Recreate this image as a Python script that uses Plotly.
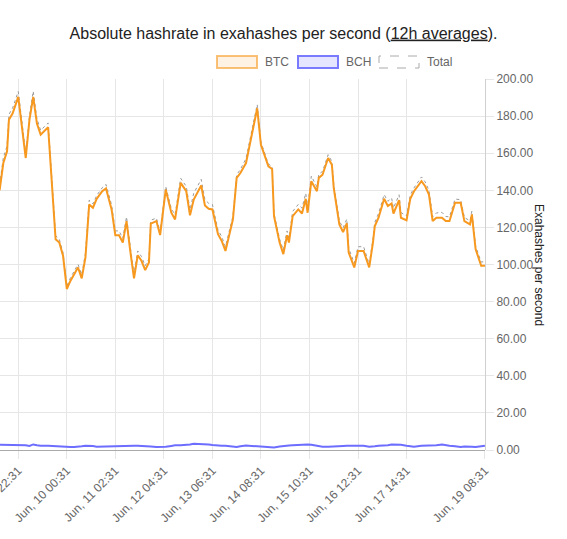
import plotly.graph_objects as go

# 12h averages (EH/s)
times = [
    "2021-06-08 12:31", "2021-06-08 14:31", "2021-06-08 16:31", "2021-06-08 17:31",
    "2021-06-08 19:31", "2021-06-08 22:31", "2021-06-09 02:31", "2021-06-09 04:31",
    "2021-06-09 06:31", "2021-06-09 08:31", "2021-06-09 10:31", "2021-06-09 14:31",
    "2021-06-09 18:31", "2021-06-09 20:31", "2021-06-09 22:31", "2021-06-10 00:31",
    "2021-06-10 02:31", "2021-06-10 04:31", "2021-06-10 06:31", "2021-06-10 08:31",
    "2021-06-10 10:31", "2021-06-10 12:31", "2021-06-10 14:31", "2021-06-10 16:31",
    "2021-06-10 19:31", "2021-06-10 21:31", "2021-06-11 00:31", "2021-06-11 02:31",
    "2021-06-11 04:31", "2021-06-11 06:31", "2021-06-11 08:31", "2021-06-11 10:31",
    "2021-06-11 12:31", "2021-06-11 14:31", "2021-06-11 16:31", "2021-06-11 18:31",
    "2021-06-11 20:31", "2021-06-11 21:31", "2021-06-12 00:31", "2021-06-12 02:31",
    "2021-06-12 05:31", "2021-06-12 08:31", "2021-06-12 10:31", "2021-06-12 13:31",
    "2021-06-12 16:31", "2021-06-12 18:31", "2021-06-12 20:31", "2021-06-13 00:31",
    "2021-06-13 02:31", "2021-06-13 04:31", "2021-06-13 06:31", "2021-06-13 09:31",
    "2021-06-13 11:31", "2021-06-13 13:31", "2021-06-13 17:31", "2021-06-13 19:31",
    "2021-06-13 21:31", "2021-06-14 00:31", "2021-06-14 03:31", "2021-06-14 06:31",
    "2021-06-14 08:31", "2021-06-14 12:31", "2021-06-14 14:31", "2021-06-14 15:31",
    "2021-06-14 18:31", "2021-06-14 20:31", "2021-06-14 22:31", "2021-06-14 23:31",
    "2021-06-15 01:31", "2021-06-15 04:31", "2021-06-15 06:31", "2021-06-15 08:31",
    "2021-06-15 09:31", "2021-06-15 11:31", "2021-06-15 14:31", "2021-06-15 15:31",
    "2021-06-15 17:31", "2021-06-15 20:31", "2021-06-15 22:31", "2021-06-15 23:31",
    "2021-06-16 02:31", "2021-06-16 04:31", "2021-06-16 06:31", "2021-06-16 07:31",
    "2021-06-16 10:31", "2021-06-16 12:31", "2021-06-16 15:31", "2021-06-16 18:31",
    "2021-06-16 20:31", "2021-06-16 21:31", "2021-06-16 23:31", "2021-06-17 02:31",
    "2021-06-17 04:31", "2021-06-17 06:31", "2021-06-17 07:31", "2021-06-17 10:31",
    "2021-06-17 11:31", "2021-06-17 14:31", "2021-06-17 16:31", "2021-06-17 18:31",
    "2021-06-17 22:31", "2021-06-18 00:31", "2021-06-18 02:31", "2021-06-18 04:31",
    "2021-06-18 06:31", "2021-06-18 09:31", "2021-06-18 11:31", "2021-06-18 13:31",
    "2021-06-18 16:31", "2021-06-18 19:31", "2021-06-18 21:31", "2021-06-19 00:31",
    "2021-06-19 01:31", "2021-06-19 03:31", "2021-06-19 06:31", "2021-06-19 08:31",
]

btc = [
    140.0, 154.7, 161.0, 178.0, 181.5, 190.4, 157.4, 178.0,
    190.4, 176.0, 170.0, 174.0, 113.6, 111.8, 104.7, 86.8,
    91.3, 94.9, 98.4, 92.5, 103.8, 132.4, 130.6, 135.4,
    139.5, 141.0, 129.7, 115.8, 115.8, 111.8, 123.4, 107.3,
    92.5, 105.0, 102.0, 97.0, 101.1, 122.0, 123.4, 115.9,
    140.4, 127.9, 124.3, 144.0, 139.5, 126.5, 135.0, 142.6,
    131.8, 130.0, 129.7, 116.3, 112.7, 107.3, 124.3, 146.7,
    149.3, 154.7, 169.9, 184.2, 164.5, 152.9, 151.5, 126.1,
    111.8, 105.6, 115.8, 111.8, 126.1, 129.7, 127.5, 135.4,
    127.9, 144.9, 139.5, 146.7, 148.4, 157.4, 153.8, 141.3,
    121.6, 117.5, 122.2, 106.5, 98.4, 107.3, 107.3, 98.4,
    111.8, 120.7, 125.2, 135.4, 131.5, 132.9, 127.5, 134.7,
    125.2, 123.8, 135.4, 139.5, 144.9, 142.2, 137.7, 123.4,
    125.2, 125.2, 123.4, 123.4, 133.3, 133.3, 123.4, 121.6,
    127.0, 108.3, 99.3, 99.3,
]

bch = [
    2.9, 2.9, 2.9, 2.9, 2.9, 2.9, 2.5, 2.2,
    3.0, 2.6, 2.3, 2.3, 2.0, 1.7, 1.6, 1.6,
    1.6, 1.6, 1.7, 2.0, 2.3, 2.3, 2.1, 1.8,
    1.9, 2.2, 2.3, 2.3, 2.3, 2.3, 2.3, 2.3,
    2.3, 2.3, 2.3, 2.3, 2.0, 1.9, 1.6, 1.6,
    1.7, 2.2, 2.5, 2.5, 2.6, 3.0, 3.4, 3.3,
    3.1, 3.0, 2.7, 2.3, 2.3, 2.3, 1.8, 1.6,
    2.0, 2.4, 2.2, 2.0, 1.5, 1.3, 1.3, 1.4,
    1.9, 2.2, 2.3, 2.4, 2.5, 2.7, 2.9, 3.0,
    3.0, 2.8, 2.3, 2.0, 1.8, 1.8, 1.8, 1.8,
    1.9, 2.2, 2.3, 2.3, 2.3, 2.3, 2.3, 1.8,
    1.7, 2.0, 2.3, 2.3, 2.6, 2.9, 2.9, 2.9,
    2.8, 2.3, 2.0, 1.8, 2.3, 2.3, 2.3, 2.3,
    2.6, 2.9, 2.5, 2.3, 2.0, 1.6, 1.9, 2.0,
    1.8, 1.6, 2.0, 2.3,
]

# total network = BTC + BCH
total = [round(a + b, 2) for a, b in zip(btc, bch)]

tick_dates = [
    "2021-06-08 22:31", "2021-06-10 00:31", "2021-06-11 02:31", "2021-06-12 04:31",
    "2021-06-13 06:31", "2021-06-14 08:31", "2021-06-15 10:31", "2021-06-16 12:31",
    "2021-06-17 14:31", "2021-06-19 08:31",
]
tick_labels = [
    "Jun, 08 22:31", "Jun, 10 00:31", "Jun, 11 02:31", "Jun, 12 04:31",
    "Jun, 13 06:31", "Jun, 14 08:31", "Jun, 15 10:31", "Jun, 16 12:31",
    "Jun, 17 14:31", "Jun, 19 08:31",
]

FONT = "Liberation Sans, Arial, sans-serif"
W, H = 567, 539
PL, PR, PT, PB = 0, 485, 79, 450   # plot area in pixels


def px(x):
    return (x - PL) / (PR - PL)


def py(y):
    return (PB - y) / (PB - PT)


fig = go.Figure()
fig.add_trace(go.Scatter(x=times, y=total, name="Total", mode="lines",
                         line=dict(color="#9a9a9a", width=1, dash="3px,3px")))
fig.add_trace(go.Scatter(x=times, y=btc, name="BTC", mode="lines",
                         line=dict(color="#f7981f", width=2)))
fig.add_trace(go.Scatter(x=times, y=bch, name="BCH", mode="lines",
                         line=dict(color="#6d6dff", width=2)))

fig.update_layout(
    width=W, height=H,
    margin=dict(l=PL, r=W - PR, t=PT, b=H - PB, autoexpand=False),
    paper_bgcolor="white", plot_bgcolor="white",
    showlegend=False,
    font=dict(family=FONT, size=12, color="#666"),
    title=dict(text="Absolute hashrate in exahashes per second (<u>12h averages</u>).",
               x=0.5, xref="container", xanchor="center",
               y=1 - 33 / H, yref="container", yanchor="middle",
               font=dict(family=FONT, size=16, color="#222")),
)

fig.update_xaxes(
    type="date", range=["2021-06-08 12:44", "2021-06-19 08:33"],
    tickvals=tick_dates, ticktext=tick_labels, tickangle=-45,
    ticklabeloverflow="allow", automargin=False,
    showgrid=True, gridcolor="#e6e6e6", gridwidth=1,
    ticks="outside", ticklen=8, tickcolor="#e6e6e6",
    showline=False, zeroline=False,
    tickfont=dict(family=FONT, size=12, color="#666"),
)
fig.update_yaxes(
    side="right", range=[0, 200], dtick=20, tickformat=".2f",
    automargin=False,
    showgrid=True, gridcolor="#e6e6e6", gridwidth=1,
    ticks="outside", ticklen=8, tickcolor="#e6e6e6",
    showline=True, linecolor="#d0d0d0", linewidth=1,
    zeroline=True, zerolinecolor="#aaaaaa", zerolinewidth=1,
    tickfont=dict(family=FONT, size=12, color="#666"),
)

# y axis title, reading top to bottom like the original
fig.add_annotation(text="Exahashes per second", textangle=90,
                   x=px(548), y=py(265), xref="paper", yref="paper",
                   showarrow=False, font=dict(family=FONT, size=12, color="#222"))

# hand-drawn legend boxes (chart.js style)
legend = [
    ("BTC", 217, "rgba(247,152,31,0.12)", "rgba(247,152,31,0.6)", "solid"),
    ("BCH", 298, "rgba(109,109,255,0.18)", "rgba(109,109,255,0.9)", "solid"),
    ("Total", 379, "rgba(255,255,255,0)", "#aaaaaa", "dash"),
]
for name, x0, fill, border, dash in legend:
    fig.add_shape(type="rect", xref="paper", yref="paper",
                  x0=px(x0), x1=px(x0 + 40), y0=py(68), y1=py(56),
                  fillcolor=fill, line=dict(color=border, width=2 if dash == "solid" else 1, dash=dash))
    fig.add_annotation(text=name, x=px(x0 + 46), y=py(62), xref="paper", yref="paper",
                       xanchor="left", yanchor="middle", showarrow=False,
                       font=dict(family=FONT, size=12, color="#666"))

# drop the default 8px page margin so the figure sits at the window corner
fig.write_html("out.html", config={"displayModeBar": False},
               post_script="document.body.style.margin='0';")
